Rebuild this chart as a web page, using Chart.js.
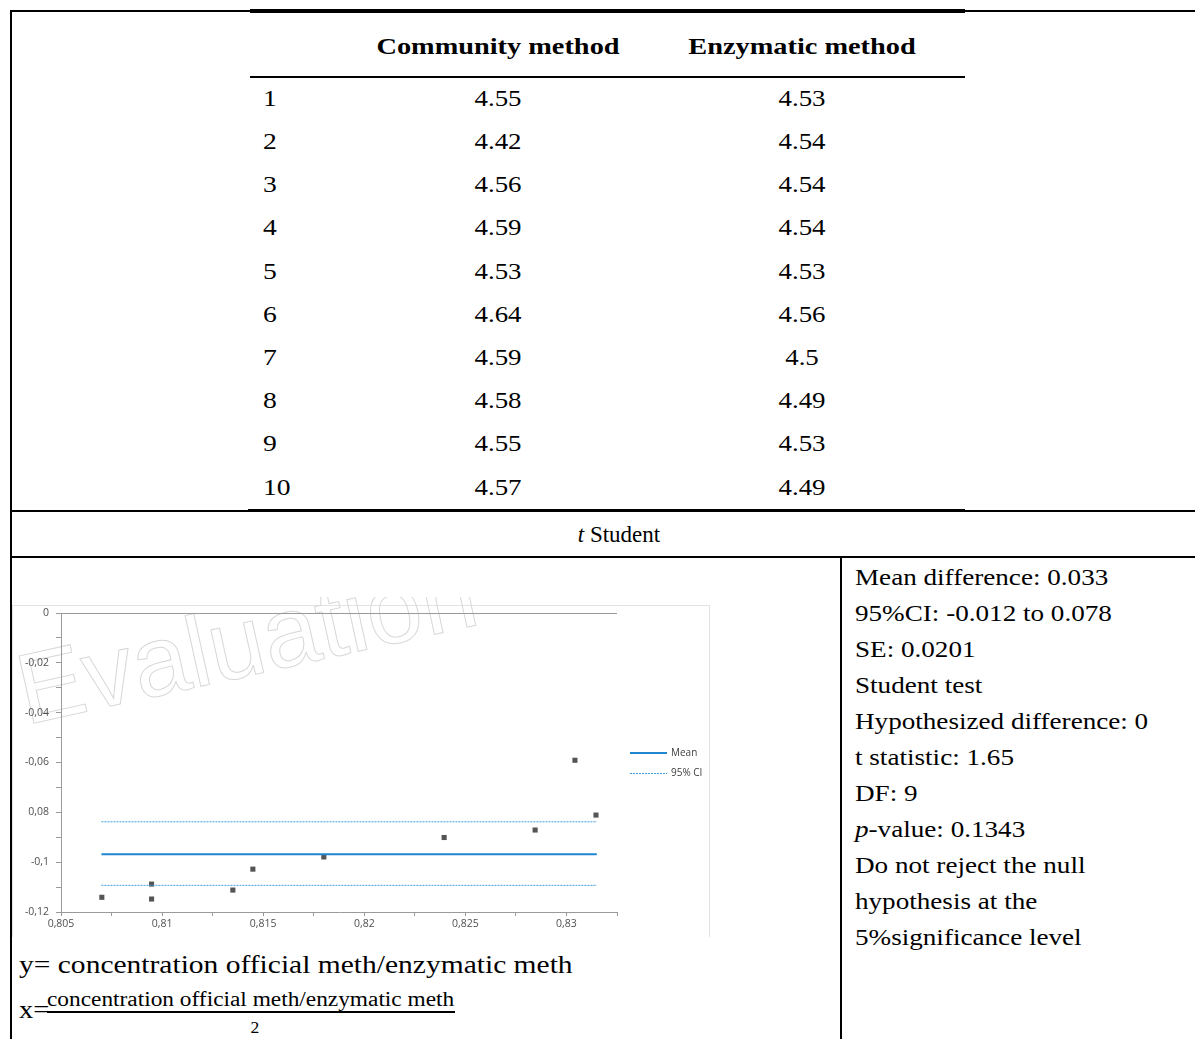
<!DOCTYPE html>
<html>
<head>
<meta charset="utf-8">
<script src="https://cdn.jsdelivr.net/npm/chart.js@4/dist/chart.umd.min.js"></script>
<style>
  html, body { margin: 0; padding: 0; background: #fff; }
  #page { position: relative; width: 1195px; height: 1039px; overflow: hidden;
          font-family: "Liberation Serif", "DejaVu Serif", serif; color: #000; }
  .ln { position: absolute; background: #000; }
  .t { position: absolute; white-space: nowrap; }
  #plotBox { position: absolute; left: 12px; top: 597px; width: 700px; height: 340px; }
</style>
</head>
<body>
<div id="page">
  <div id="plotBox"><canvas id="bland"></canvas></div>
</div>
<script>
// ---- table data ----
const rowIds = ['1', '2', '3', '4', '5', '6', '7', '8', '9', '10'];
const communityMethod = ['4.55', '4.42', '4.56', '4.59', '4.53', '4.64', '4.59', '4.58', '4.55', '4.57'];
const enzymaticMethod = ['4.53', '4.54', '4.54', '4.54', '4.53', '4.56', '4.5', '4.49', '4.53', '4.49'];
const headers = ['Community method', 'Enzymatic method'];
const statLines = [
  'Mean difference: 0.033',
  '95%CI: -0.012 to 0.078',
  'SE: 0.0201',
  'Student test',
  'Hypothesized difference: 0',
  't statistic: 1.65',
  'DF: 9',
  '<i>p</i>-value: 0.1343',
  'Do not reject the null',
  'hypothesis at the',
  '5%significance level'
];

// ---- plot data ----
const meanX = [0.80702, 0.80948, 0.80948, 0.81350, 0.81449, 0.81800, 0.82395, 0.82845, 0.83042, 0.83146];
const diffY = [-0.1141, -0.1088, -0.1148, -0.1112, -0.1028, -0.0979, -0.0901, -0.0871, -0.0591, -0.0811];
const meanDiff = -0.0968;
const ciUpper = -0.0838;
const ciLower = -0.1093;
const lineSpanX = [0.8070, 0.8315];
const xTickLabels = ['0,805', '0,81', '0,815', '0,82', '0,825', '0,83'];
const yTickLabels = ['0', '-0,02', '-0,04', '-0,06', '0,08', '-0,1', '-0,12'];
const legendLabels = ['Mean', '95% CI'];

// ---- page layout helpers ----
const page = document.getElementById('page');
function rule(x, y, w, h) {
  const d = document.createElement('div');
  d.className = 'ln';
  Object.assign(d.style, { left: x + 'px', top: y + 'px', width: w + 'px', height: h + 'px' });
  page.appendChild(d);
}
// text placed by its left edge (or centre) and vertical middle; sx widens the glyphs
function put(html, x, yc, fs, align, sx) {
  const d = document.createElement('div');
  d.className = 't';
  d.innerHTML = html;
  d.style.fontSize = fs + 'px';
  d.style.lineHeight = fs + 'px';
  d.style.top = (yc - 0.51 * fs) + 'px';
  d.style.left = x + 'px';
  sx = sx || 1;
  if (align === 'center') {
    d.style.transformOrigin = 'center';
    d.style.transform = 'translateX(-50%) scaleX(' + sx + ')';
  } else {
    d.style.transformOrigin = 'left center';
    d.style.transform = 'scaleX(' + sx + ')';
  }
  page.appendChild(d);
}

// borders and rules
rule(10, 10, 240, 2);       // top, left part
rule(250, 9, 715, 4);       // top rule of inner table
rule(965, 10, 230, 2);      // top, right part
rule(10, 10, 2, 1029);      // left border
rule(250, 76, 715, 2);      // header rule
rule(10, 510, 1185, 2);     // bottom of data block
rule(248, 509, 717, 3);     // bottom rule of inner table
rule(10, 556, 1185, 2);     // under "t Student"
rule(840, 556, 2, 483);     // split of last row

// header
put('<b>' + headers[0] + '</b>', 498, 46, 24, 'center', 1.18);
put('<b>' + headers[1] + '</b>', 802, 46, 24, 'center', 1.18);

// rows
rowIds.forEach((id, i) => {
  const yc = 98 + i * 43.2;
  put(id, 263, yc, 24, 'left', 1.15);
  put(communityMethod[i], 498, yc, 24, 'center', 1.12);
  put(enzymaticMethod[i], 802, yc, 24, 'center', 1.12);
});

put('<i>t</i> Student', 619, 535, 23, 'center', 1);

statLines.forEach((s, i) => put(s, 855, 577 + i * 36, 24, 'left', 1.13));

// axis definitions under the plot
put('y= concentration official meth/enzymatic meth', 19, 965, 26, 'left', 1.135);
put('x=', 19, 1010, 26, 'left', 1.1);
put('concentration official meth/enzymatic meth', 47, 999, 20, 'left', 1.167);
rule(47, 1011, 408, 2);
put('2', 255, 1028, 16, 'center', 1.1);

// ---- chart ----
const plotDecor = {
  id: 'plotDecor',
  beforeDraw(chart) {
    const ctx = chart.ctx;
    ctx.save();
    // chart frame
    ctx.strokeStyle = '#e3e3e3';
    ctx.lineWidth = 1;
    ctx.strokeRect(0.5, 8.5, 697, 340);
    // faint outlined watermark
    ctx.translate(14, 128);
    ctx.rotate(-12.5 * Math.PI / 180);
    ctx.font = '100px "Liberation Sans", Arial, sans-serif';
    ctx.strokeStyle = '#d8d8d8';
    ctx.lineWidth = 1;
    ctx.strokeText('Evaluation', 0, 0);
    ctx.restore();
  },
  afterDraw(chart) {
    const ctx = chart.ctx;
    const a = chart.chartArea;
    ctx.save();
    // horizontal line at zero
    ctx.strokeStyle = '#9a9a9a';
    ctx.lineWidth = 1;
    ctx.beginPath();
    ctx.moveTo(a.left, a.top + 0.5);
    ctx.lineTo(a.right, a.top + 0.5);
    ctx.stroke();
    // legend
    const lx = a.right + 13;
    const ly = 156;
    ctx.font = '10px "Open Sans", "Liberation Sans", sans-serif';
    ctx.textBaseline = 'middle';
    ctx.fillStyle = '#404040';
    ctx.strokeStyle = '#1f86cf';
    ctx.lineWidth = 2;
    ctx.beginPath(); ctx.moveTo(lx, ly); ctx.lineTo(lx + 37, ly); ctx.stroke();
    ctx.fillText(legendLabels[0], lx + 41, ly);
    ctx.strokeStyle = '#3ea0dc';
    ctx.lineWidth = 1;
    ctx.setLineDash([2, 1]);
    ctx.beginPath(); ctx.moveTo(lx, ly + 20.5); ctx.lineTo(lx + 37, ly + 20.5); ctx.stroke();
    ctx.setLineDash([]);
    ctx.fillText(legendLabels[1], lx + 41, ly + 20);
    ctx.restore();
  }
};

const hLine = (yv) => [{ x: lineSpanX[0], y: yv }, { x: lineSpanX[1], y: yv }];
const tickFont = { family: '"Open Sans", "Liberation Sans", sans-serif', size: 10.5 };

new Chart(document.getElementById('bland'), {
  type: 'scatter',
  data: {
    datasets: [
      {
        label: 'Mean',
        type: 'line',
        data: hLine(meanDiff),
        borderColor: '#1f86cf',
        borderWidth: 2,
        pointRadius: 0
      },
      {
        label: '95% CI upper',
        type: 'line',
        data: hLine(ciUpper),
        borderColor: '#3ea0dc',
        borderWidth: 1,
        borderDash: [2, 1],
        pointRadius: 0
      },
      {
        label: '95% CI lower',
        type: 'line',
        data: hLine(ciLower),
        borderColor: '#3ea0dc',
        borderWidth: 1,
        borderDash: [2, 1],
        pointRadius: 0
      },
      {
        label: 'Difference',
        data: meanX.map((x, i) => ({ x, y: diffY[i] })),
        pointStyle: 'rect',
        pointRadius: 3.6,
        backgroundColor: '#555555',
        borderWidth: 0
      }
    ]
  },
  options: {
    responsive: true,
    maintainAspectRatio: false,
    animation: false,
    layout: { padding: { top: 16, right: 95, left: 0, bottom: 0 } },
    plugins: { legend: { display: false }, tooltip: { enabled: false } },
    scales: {
      x: {
        type: 'linear',
        min: 0.805,
        max: 0.8325,
        afterFit(scale) { scale.height = 25; },
        border: { display: true, color: '#9a9a9a', width: 1 },
        grid: { drawOnChartArea: false, drawTicks: true, tickLength: 4, color: '#9a9a9a' },
        ticks: {
          stepSize: 0.0025,
          autoSkip: false,
          maxRotation: 0,
          padding: 2,
          color: '#505050',
          font: tickFont,
          callback(v) {
            const k = Math.round((v - 0.805) / 0.0025);
            return k % 2 ? '' : (xTickLabels[k / 2] || '');
          }
        }
      },
      y: {
        min: -0.12,
        max: 0,
        afterFit(scale) { scale.width = 49; },
        border: { display: true, color: '#9a9a9a', width: 1 },
        grid: { drawOnChartArea: false, drawTicks: true, tickLength: 5, color: '#9a9a9a' },
        ticks: {
          stepSize: 0.01,
          autoSkip: false,
          padding: 7,
          color: '#505050',
          font: tickFont,
          callback(v) {
            const k = Math.round(-v / 0.01);
            return k % 2 ? '' : (yTickLabels[k / 2] || '');
          }
        }
      }
    }
  },
  plugins: [plotDecor]
});
</script>
</body>
</html>
